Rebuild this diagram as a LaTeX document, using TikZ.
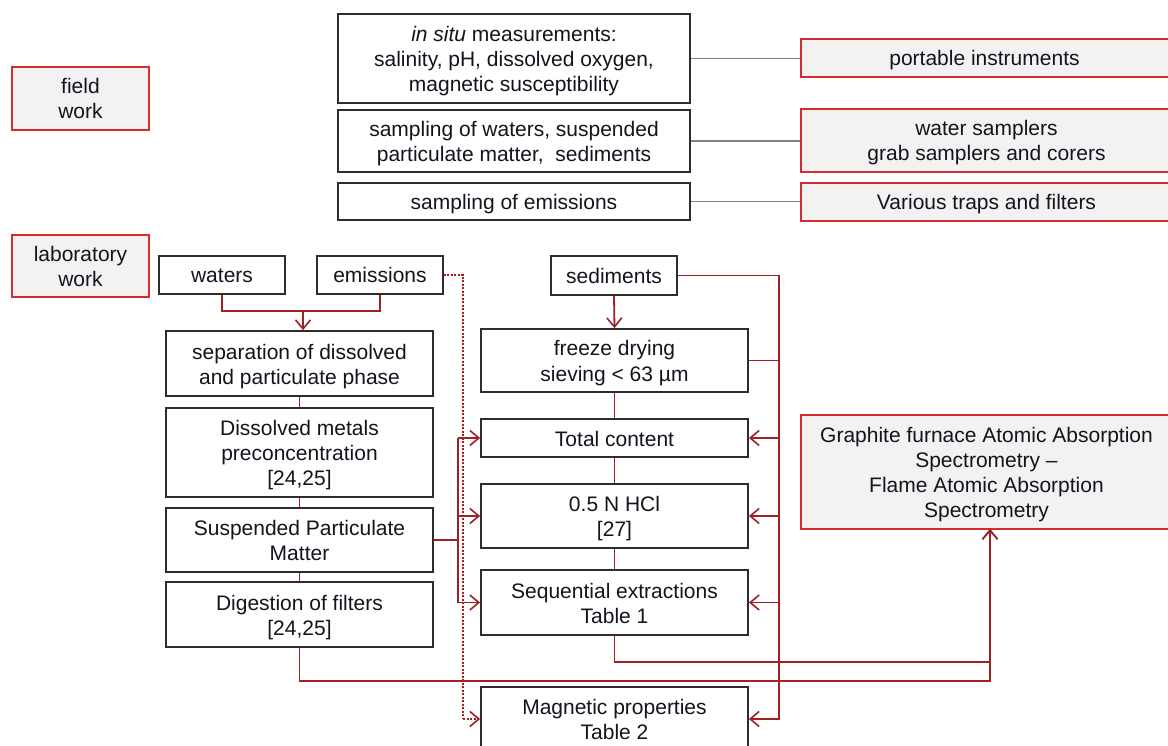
\documentclass[tikz,border=0pt]{standalone}
\usepackage{fontspec}
\setmainfont{Liberation Sans}
\usetikzlibrary{arrows.meta}
\definecolor{boxred}{RGB}{214,44,48}
\definecolor{linered}{RGB}{160,32,38}
\definecolor{boxfill}{RGB}{242,242,242}
\definecolor{boxline}{RGB}{45,45,45}
\definecolor{grayline}{RGB}{128,128,128}
\definecolor{txt}{RGB}{20,20,30}
\newcommand{\mystrutx}{\rule[-4.5pt]{0pt}{25pt}}
\begin{document}
\begin{tikzpicture}[x=1pt,y=-1pt,
  every node/.style={font=\fontsize{21}{25}\selectfont, text=txt, align=center, inner sep=0pt,
     execute at begin node=\mystrutx, execute at end node=\mystrutx},
  redbox/.style={draw=boxred, fill=boxfill, line width=1.8pt},
  blkbox/.style={draw=boxline, fill=white, line width=1.8pt},
  grayconn/.style={draw=grayline, line width=1.8pt},
  redconn/.style={draw=linered, line width=1.8pt},
  tip/.style={-{Straight Barb[length=9pt,width=15pt,line width=1.6pt]}},
  arr/.style={redconn, tip},
  dotconn/.style={redconn, dash pattern=on 2pt off 1.5pt}
]
\useasboundingbox (0,0) rectangle (1168,746);

% left labels
\node[redbox, minimum width=137pt, minimum height=63pt] (field) at (80.5,98.5) {\mystrutx field\\work};
\node[redbox, minimum width=137pt, minimum height=62pt] (lab) at (80.5,266) {\mystrutx laboratory\\work};

% field work boxes
\node[blkbox, minimum width=352pt, minimum height=89pt] (insitu) at (514,58.5) {\mystrutx\textit{in situ} measurements:\\salinity, pH, dissolved oxygen,\\magnetic susceptibility};
\node[blkbox, minimum width=352pt, minimum height=62pt] (sampw) at (514,141) {\mystrutx sampling of waters, suspended\\particulate matter,\ \ sediments};
\node[blkbox, minimum width=352pt, minimum height=37pt] (sampe) at (514,201.5) {sampling of emissions};

\node[redbox, minimum width=371pt, minimum height=38pt] (port) at (986.5,58) {\hspace*{-4pt}portable instruments};
\node[redbox, minimum width=371pt, minimum height=63pt] (wsamp) at (986.5,140.5) {\mystrutx water samplers\\grab samplers and corers};
\node[redbox, minimum width=371pt, minimum height=38pt] (traps) at (986.5,202) {Various traps and filters};

\draw[grayconn] (insitu.east) -- (insitu.east -| port.west);
\draw[grayconn] (sampw.east) -- (sampw.east -| wsamp.west);
\draw[grayconn] (sampe.east) -- (sampe.east -| traps.west);

% lab boxes
\node[blkbox, minimum width=126pt, minimum height=38pt] (waters) at (222,275) {waters};
\node[blkbox, minimum width=126pt, minimum height=38pt] (emis) at (380,275) {emissions};
\node[blkbox, minimum width=126pt, minimum height=39pt] (sed) at (614,275.5) {sediments};

\node[blkbox, minimum width=267pt, minimum height=65pt] (sep) at (299.5,363.5) {\mystrutx separation of dissolved\\and particulate phase};
\node[blkbox, minimum width=267pt, minimum height=89pt] (diss) at (299.5,452.5) {\mystrutx Dissolved metals\\preconcentration\\{[24,25]}};
\node[blkbox, minimum width=267pt, minimum height=64pt] (spm) at (299.5,540) {\mystrutx Suspended Particulate\\Matter};
\node[blkbox, minimum width=267pt, minimum height=65pt] (dig) at (299.5,614.5) {\mystrutx Digestion of filters\\{[24,25]}};

\node[blkbox, minimum width=267pt, minimum height=63pt] (freeze) at (614.5,360.5) {\mystrutx freeze drying\\sieving < 63 µm};
\node[blkbox, minimum width=267pt, minimum height=38pt] (total) at (614.5,438) {Total content};
\node[blkbox, minimum width=267pt, minimum height=64pt] (hcl) at (614.5,516) {\mystrutx 0.5 N HCl\\{[27]}};
\node[blkbox, minimum width=267pt, minimum height=65pt] (seq) at (614.5,602.5) {\mystrutx Sequential extractions\\Table 1};
\node[blkbox, minimum width=267pt, minimum height=64pt] (mag) at (614.5,719) {\mystrutx Magnetic properties\\Table 2};

\node[redbox, minimum width=371pt, minimum height=114pt] (gfaas) at (986.5,472) {\mystrutx Graphite furnace Atomic Absorption\\Spectrometry --\\Flame Atomic Absorption\\Spectrometry};

% coordinates for buses
\coordinate (j1) at (303,311);
\coordinate (rb) at (779,0);
\coordinate (lb) at (458,0);
\coordinate (db) at (463,0);
\coordinate (gfin) at (990,529);

% waters/emissions -> separation
\draw[redconn] (waters.south) |- (j1) -| (emis.south);
\draw[arr] (j1) -- (j1 |- sep.north);

% left column chain
\draw[redconn] (sep.south) -- (diss.north);
\draw[redconn] (diss.south) -- (spm.north);
\draw[redconn] (spm.south) -- (dig.north);

% middle column chain
\draw[arr] (sed.south) -- (freeze.north);
\draw[redconn] (freeze.south) -- (total.north);
\draw[redconn] (total.south) -- (hcl.north);
\draw[redconn] (hcl.south) -- (seq.north);

% sediments right bus
\draw[arr] (sed.east) -| (rb |- mag.east) -- (mag.east);
\draw[redconn] (freeze.east) -- (rb |- freeze.east);
\draw[arr] (rb |- total.east) -- (total.east);
\draw[arr] (rb |- hcl.east) -- (hcl.east);
\draw[arr] (rb |- seq.east) -- (seq.east);

% SPM bus
\draw[redconn] (spm.east) -- (lb |- spm.east);
\draw[redconn] (lb |- total.west) -- (lb |- seq.west);
\draw[arr] (lb |- total.west) -- (total.west);
\draw[arr] (lb |- hcl.west) -- (hcl.west);
\draw[arr] (lb |- seq.west) -- (seq.west);

% emissions dotted to magnetic
\draw[dotconn] (emis.east) -| (db |- mag.west);
\draw[dotconn, tip] (db |- mag.west) -- (mag.west);

% to GFAAS
\draw[arr] (dig.south) -- ++(0,33) -| (gfin);
\draw[arr] (seq.south) -- ++(0,26) -| (gfin);

\end{tikzpicture}
\end{document}
